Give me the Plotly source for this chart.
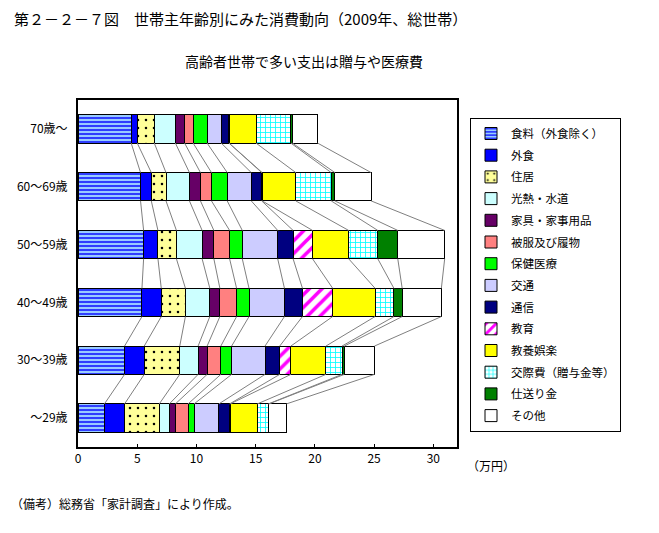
import plotly.graph_objects as go

# Categories (top to bottom)
age_groups = ["70歳～", "60～69歳", "50～59歳", "40～49歳", "30～39歳", "～29歳"]

# Series names
series_names = ["食料（外食除く）", "外食", "住居", "光熱・水道", "家具・家事用品", "被服及び履物",
                "保健医療", "交通", "通信", "教育", "教養娯楽", "交際費（贈与金等）", "仕送り金", "その他"]

# Values in 万円, per series, ordered as age_groups
food = [4.49, 5.28, 5.54, 5.40, 3.93, 2.23]
eating_out = [0.51, 0.91, 1.21, 1.63, 1.66, 1.70]
housing = [1.44, 1.24, 1.56, 2.04, 3.00, 2.93]
utilities = [1.78, 1.98, 2.17, 2.06, 1.55, 0.85]
furniture = [0.78, 0.93, 0.99, 0.85, 0.76, 0.51]
clothing = [0.72, 0.93, 1.33, 1.41, 1.16, 1.07]
medical = [1.18, 1.33, 1.07, 1.05, 0.91, 0.51]
transport = [1.19, 2.03, 2.99, 2.99, 2.82, 2.09]
communication = [0.65, 0.88, 1.30, 1.52, 1.24, 0.91]
education = [0.02, 0.04, 1.64, 2.55, 0.94, 0.05]
recreation = [2.27, 2.84, 3.05, 3.58, 2.96, 2.29]
social = [2.94, 2.99, 2.46, 1.59, 1.36, 0.93]
remittance = [0.13, 0.31, 1.69, 0.70, 0.19, 0.05]
other = [2.13, 3.06, 3.96, 3.31, 2.55, 1.48]

x_ticks = [0, 5, 10, 15, 20, 25, 30]

all_values = [food, eating_out, housing, utilities, furniture, clothing, medical,
              transport, communication, education, recreation, social, remittance, other]

styles = [
    dict(shape="-", fg="#0000ff", bg="#99ccff", size=4, sol=0.35),
    dict(shape="", fg=None, bg="#0000ff"),
    dict(shape=".", fg="#000000", bg="#ffff99", size=8, sol=0.08),
    dict(shape="", fg=None, bg="#ccffff"),
    dict(shape="", fg=None, bg="#660066"),
    dict(shape="", fg=None, bg="#ff8080"),
    dict(shape="", fg=None, bg="#00ff00"),
    dict(shape="", fg=None, bg="#ccccff"),
    dict(shape="", fg=None, bg="#000080"),
    dict(shape="/", fg="#ff00ff", bg="#ffffff", size=9, sol=0.4),
    dict(shape="", fg=None, bg="#ffff00"),
    dict(shape="+", fg="#00ffff", bg="#ffffff", size=5, sol=0.3),
    dict(shape="", fg=None, bg="#008000"),
    dict(shape="", fg=None, bg="#ffffff"),
]

ypos = list(range(len(age_groups)))
bar_w = 0.49
FONT = "Noto Sans CJK JP"

fig = go.Figure()

# series lines
cum = [0.0] * len(age_groups)
lx, ly = [], []
for vals in all_values:
    cum = [c + v for c, v in zip(cum, vals)]
    for i in range(len(age_groups) - 1):
        lx += [cum[i], cum[i + 1], None]
        ly += [ypos[i] + bar_w / 2, ypos[i + 1] - bar_w / 2, None]
fig.add_trace(go.Scatter(x=lx, y=ly, mode="lines", line=dict(color="#808080", width=1),
                         showlegend=False, hoverinfo="skip"))

for name, vals, st in zip(series_names, all_values, styles):
    marker = dict(color=st["bg"], line=dict(color="black", width=1))
    if st["shape"]:
        marker["pattern"] = dict(shape=st["shape"], fgcolor=st["fg"], bgcolor=st["bg"],
                                 size=st["size"], solidity=st["sol"], fillmode="replace")
    fig.add_trace(go.Bar(x=vals, y=ypos, orientation="h", name=name, width=bar_w,
                         marker=marker, legendgroup=name))

L, R, T, B = 78, 457, 100, 447
W, H = 659, 533


def px(x):
    return (x - L) / (R - L)


def py(y):
    return (B - y) / (B - T)


annos = [
    dict(text="第２－２－７図　世帯主年齢別にみた消費動向（2009年、総世帯）", x=px(12), y=py(18),
         xanchor="left", yanchor="middle", font=dict(size=15, family=FONT)),
    dict(text="高齢者世帯で多い支出は贈与や医療費", x=px(304), y=py(61),
         xanchor="center", yanchor="middle", font=dict(size=14, family=FONT)),
    dict(text="（備考）総務省「家計調査」により作成。", x=px(9), y=py(503),
         xanchor="left", yanchor="middle", font=dict(size=12, family=FONT)),
    dict(text="（万円）", x=px(465), y=py(465),
         xanchor="left", yanchor="middle", font=dict(size=12, family=FONT)),
]
for a in annos:
    a.update(xref="paper", yref="paper", showarrow=False)

fig.update_layout(
    width=W, height=H,
    margin=dict(l=L, r=W - R, t=T, b=H - B),
    barmode="stack",
    plot_bgcolor="white", paper_bgcolor="white",
    font=dict(family=FONT, size=12, color="black"),
    showlegend=True,
    legend=dict(x=px(470), y=py(118), xanchor="left", yanchor="top",
                bordercolor="black", borderwidth=1, bgcolor="white",
                font=dict(size=11.5, family=FONT), traceorder="grouped", tracegroupgap=2.7),
    annotations=annos,
    xaxis=dict(range=[0, 32], tickvals=x_ticks, ticks="inside", ticklen=3, tickcolor="black",
               showgrid=False, zeroline=False, showline=True, linecolor="black", linewidth=2,
               mirror=True, tickfont=dict(size=12, family=FONT)),
    yaxis=dict(range=[5.5, -0.5], tickvals=ypos, ticktext=age_groups, ticks="",
               showgrid=False, zeroline=False, showline=True, linecolor="black", linewidth=2,
               mirror=True, tickfont=dict(size=12, family=FONT), ticklabelstandoff=6),
)

fig.write_html("out.html", config={"displayModeBar": False},
               post_script="document.body.style.margin='0';")
